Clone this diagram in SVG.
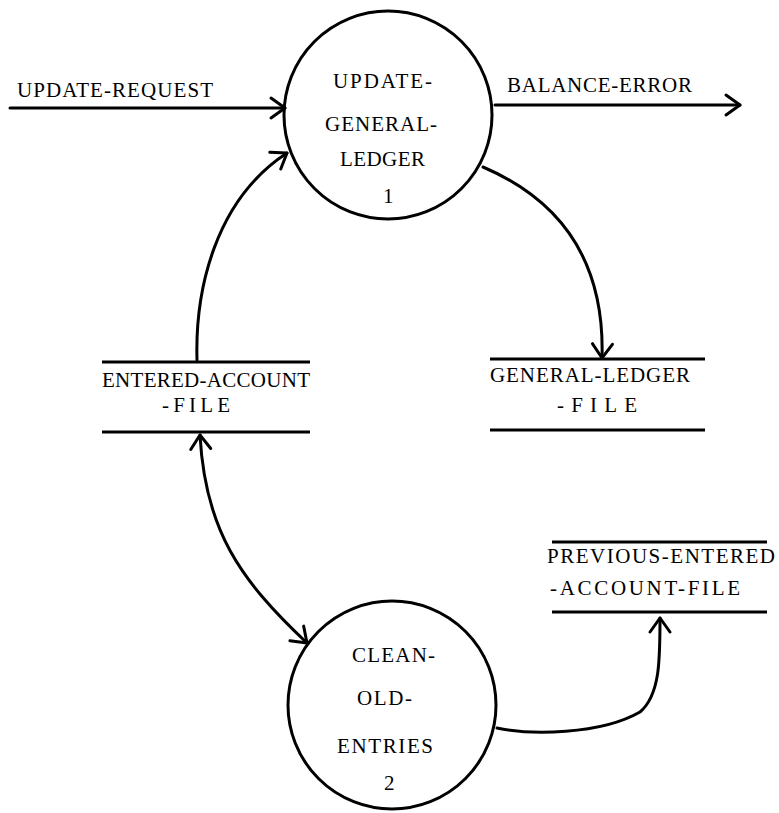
<svg xmlns="http://www.w3.org/2000/svg" width="779" height="813" viewBox="0 0 779 813">
  <style>
    .bubble { fill: none; stroke: #000; stroke-width: 3; }
    .store { stroke: #000; stroke-width: 3; }
    .flow { fill: none; stroke: #000; stroke-width: 3; stroke-linecap: round; }
    text { font-family: "Liberation Serif", "Times New Roman", serif; font-size: 21px; fill: #000; }
  </style>
  <defs>
    <marker id="arrow" markerUnits="userSpaceOnUse" markerWidth="40" markerHeight="40" viewBox="-20 -20 40 40" refX="0" refY="0" orient="auto-start-reverse">
      <path d="M-14,-10 L0,0 L-14,10" fill="none" stroke="#000" stroke-width="3" stroke-linecap="round" stroke-linejoin="round"/>
    </marker>
  </defs>
  <rect width="779" height="813" fill="#fff"/>

  <!-- processes -->
  <g id="update-general-ledger">
    <circle class="bubble" cx="388" cy="115" r="104"/>
    <text x="333" y="88" textLength="99" lengthAdjust="spacing">UPDATE-</text>
    <text x="325" y="131" textLength="112" lengthAdjust="spacing">GENERAL-</text>
    <text x="340" y="166" textLength="85" lengthAdjust="spacing">LEDGER</text>
    <text x="383" y="203">1</text>
  </g>
  <g id="clean-old-entries">
    <circle class="bubble" cx="392" cy="705" r="104"/>
    <text x="352" y="662" textLength="83" lengthAdjust="spacing">CLEAN-</text>
    <text x="357" y="705" textLength="55" lengthAdjust="spacing">OLD-</text>
    <text x="337" y="753" textLength="96" lengthAdjust="spacing">ENTRIES</text>
    <text x="384" y="790">2</text>
  </g>

  <!-- data stores -->
  <g id="entered-account-file">
    <line class="store" x1="102" y1="362" x2="310" y2="362"/>
    <line class="store" x1="102" y1="432" x2="310" y2="432"/>
    <text x="102" y="387" textLength="208" lengthAdjust="spacing">ENTERED-ACCOUNT</text>
    <text x="162" y="412" textLength="68" lengthAdjust="spacing">-FILE</text>
  </g>
  <g id="general-ledger-file">
    <line class="store" x1="490" y1="359" x2="705" y2="359"/>
    <line class="store" x1="490" y1="430" x2="705" y2="430"/>
    <text x="490" y="382" textLength="200" lengthAdjust="spacing">GENERAL-LEDGER</text>
    <text x="557" y="412" textLength="80" lengthAdjust="spacing">-FILE</text>
  </g>
  <g id="previous-entered-account-file">
    <line class="store" x1="552" y1="542" x2="767" y2="542"/>
    <line class="store" x1="552" y1="612" x2="767" y2="612"/>
    <text x="547" y="563" textLength="228" lengthAdjust="spacing">PREVIOUS-ENTERED</text>
    <text x="550" y="595" textLength="190" lengthAdjust="spacing">-ACCOUNT-FILE</text>
  </g>

  <!-- data flows -->
  <g id="flows">
    <path class="flow" d="M10,108 L285,108" marker-end="url(#arrow)"/>
    <text x="17" y="97" textLength="196" lengthAdjust="spacing">UPDATE-REQUEST</text>
    <path class="flow" d="M495,105 L740,105" marker-end="url(#arrow)"/>
    <text x="507" y="92" textLength="185" lengthAdjust="spacing">BALANCE-ERROR</text>
    <path class="flow" d="M197,360 C195,290 215,200 287,153" marker-end="url(#arrow)"/>
    <path class="flow" d="M483,167 C560,200 605,260 602,358" marker-end="url(#arrow)"/>
    <path class="flow" d="M200,435 C205,530 240,580 307,643" marker-start="url(#arrow)" marker-end="url(#arrow)"/>
    <path class="flow" d="M497,728 C530,735 600,735 640,712 C660,695 660,660 660,618" marker-end="url(#arrow)"/>
  </g>
</svg>
